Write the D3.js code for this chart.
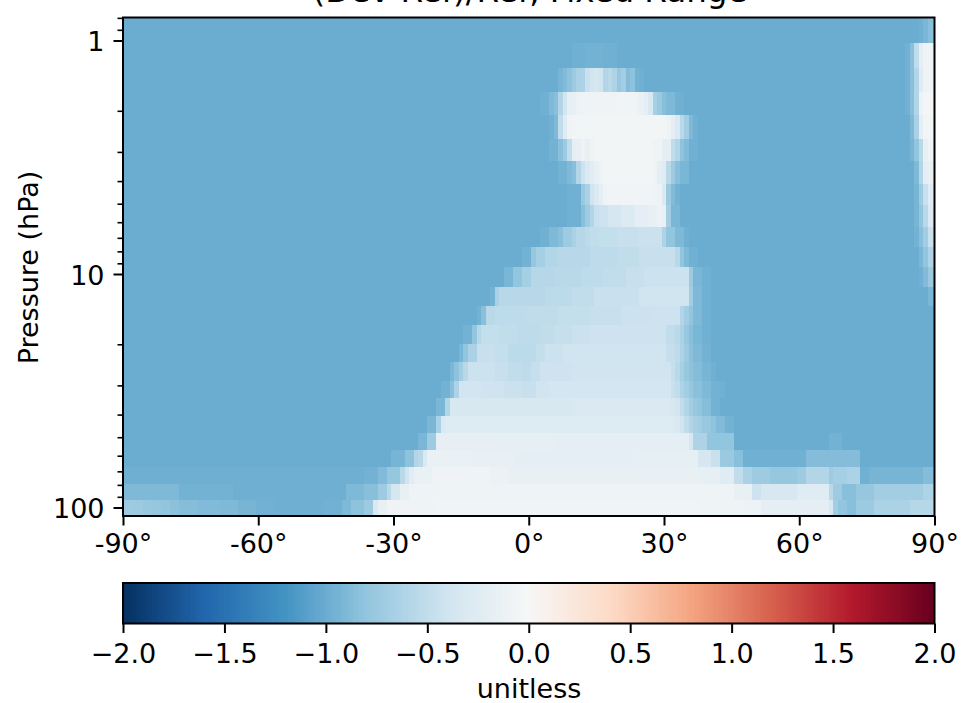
<!DOCTYPE html>
<html><head><meta charset="utf-8">
<script src="https://cdn.jsdelivr.net/npm/d3@7"></script>
<style>
html,body{margin:0;padding:0;background:#fff;overflow:hidden}
svg{display:block}
text{font-family:"DejaVu Sans",sans-serif;fill:#000}
</style></head><body>
<svg id="c" width="974" height="703"></svg>
<script>
const titleText = "(Dev-Ref)/Ref, Fixed Range";
const yLabel = "Pressure (hPa)";
const cbLabel = "unitless";
const colorStops = ["#053061","#2166ac","#4393c3","#92c5de","#d1e5f0","#f7f7f7","#fddbc7","#f4a582","#d6604d","#b2182b","#67001f"];
const latTicks = [-90,-60,-30,0,30,60,90];
const pTicksMajor = [1,10,100];
const pTicksMinor = [0.8,0.9,2,3,4,5,6,7,8,9,20,30,40,50,60,70,80,90];
const cbTicks = [-2,-1.5,-1,-0.5,0,0.5,1,1.5,2];
// pressure layer edges (hPa), top to bottom
const pEdges = [0.797,1.025,1.311,1.662,2.085,2.642,3.28,4.12,5.06,6.29,7.66,9.33,11.37,13.71,16.54,19.94,23.82,28.72,33.96,40.56,47.96,56.73,67.1,79.3,92.9,108.8];
const bg = -1;
// one list per layer: [latitude where a run starts, value of the run]
const layers = [
[[-90,bg],[87,-0.97],[88,-0.92],[89,-0.85]],
[[-90,bg],[10,-0.97],[13,-0.95],[17,-0.97],[20,bg],[84,-0.96],[85,-0.85],[86,-0.5],[87,-0.2],[88,-0.08]],
[[-90,bg],[7,-0.93],[8,-0.88],[9,-0.82],[10,-0.72],[11,-0.65],[12,-0.62],[13,-0.45],[14,-0.38],[15,-0.36],[16,-0.4],[17,-0.6],[18,-0.55],[19,-0.62],[20,-0.76],[21,-0.7],[22,-0.87],[23,-0.82],[24,-0.95],[25,-0.97],[26,bg],[84,-0.96],[85,-0.85],[86,-0.6],[87,-0.25],[88,-0.08]],
[[-90,bg],[3,-0.97],[5,-0.9],[6,-0.85],[7,-0.6],[8,-0.38],[9,-0.18],[10,-0.15],[11,-0.12],[12,-0.1],[14,-0.08],[20,-0.07],[24,-0.1],[25,-0.14],[26,-0.2],[27,-0.32],[28,-0.68],[29,-0.75],[30,-0.85],[31,-0.9],[33,-0.97],[35,bg],[84,-0.96],[85,-0.85],[86,-0.6],[87,-0.12],[88,-0.04]],
[[-90,bg],[5,-0.97],[6,-0.9],[7,-0.5],[8,-0.25],[9,-0.08],[10,-0.05],[31,-0.1],[32,-0.2],[33,-0.3],[34,-0.55],[35,-0.7],[36,-0.9],[37,-0.97],[38,bg],[85,-0.9],[86,-0.65],[87,-0.2],[88,-0.05]],
[[-90,bg],[5,-0.95],[7,-0.85],[8,-0.72],[9,-0.5],[10,-0.2],[11,-0.17],[12,-0.1],[13,-0.15],[14,-0.08],[15,-0.05],[28,-0.1],[30,-0.2],[32,-0.5],[33,-0.6],[34,-0.82],[35,-0.88],[36,-0.97],[38,bg],[85,-0.93],[86,-0.8],[87,-0.55],[88,-0.15],[89,-0.1]],
[[-90,bg],[7,-0.95],[9,-0.9],[10,-0.85],[11,-0.6],[12,-0.42],[13,-0.3],[14,-0.22],[15,-0.15],[16,-0.1],[17,-0.05],[28,-0.1],[29,-0.2],[30,-0.25],[31,-0.55],[32,-0.72],[33,-0.85],[34,-0.92],[36,bg],[86,-0.9],[87,-0.6],[88,-0.2],[89,-0.15]],
[[-90,bg],[9,-0.97],[12,-0.75],[13,-0.65],[14,-0.4],[15,-0.3],[16,-0.2],[17,-0.1],[18,-0.06],[28,-0.1],[29,-0.12],[30,-0.3],[31,-0.75],[32,-0.88],[33,-0.95],[34,bg],[86,-0.93],[87,-0.72],[88,-0.45],[89,-0.25]],
[[-90,bg],[9,-0.97],[12,-0.85],[13,-0.72],[14,-0.6],[15,-0.45],[16,-0.42],[18,-0.35],[21,-0.28],[24,-0.2],[27,-0.15],[29,-0.12],[30,-0.15],[31,-0.7],[32,-0.92],[34,bg],[86,-0.93],[87,-0.8],[88,-0.55],[89,-0.3]],
[[-90,bg],[3,-0.97],[5,-0.9],[7,-0.85],[8,-0.72],[10,-0.65],[11,-0.58],[13,-0.54],[14,-0.5],[16,-0.48],[20,-0.46],[25,-0.44],[30,-0.62],[31,-0.8],[33,-0.9],[35,-0.97],[36,bg],[86,-0.95],[87,-0.85],[88,-0.7],[89,-0.45]],
[[-90,bg],[-1,-0.95],[1,-0.78],[2,-0.68],[4,-0.6],[7,-0.56],[14,-0.53],[20,-0.5],[25,-0.46],[33,-0.55],[34,-0.8],[35,-0.9],[36,-0.97],[38,bg],[87,-0.92],[88,-0.8],[89,-0.62]],
[[-90,bg],[-5,-0.92],[-3,-0.8],[-1,-0.68],[1,-0.57],[6,-0.55],[12,-0.52],[17,-0.5],[22,-0.46],[26,-0.43],[36,-0.72],[37,-0.92],[39,-0.97],[41,bg],[87,-0.97],[88,-0.88],[89,-0.75]],
[[-90,bg],[-8,-0.95],[-7,-0.65],[-6,-0.56],[4,-0.54],[10,-0.5],[15,-0.45],[25,-0.4],[36,-0.7],[37,-0.9],[39,-0.97],[41,bg],[89,-0.92]],
[[-90,bg],[-11,-0.95],[-10,-0.85],[-9,-0.55],[-7,-0.52],[0,-0.51],[7,-0.48],[14,-0.46],[21,-0.43],[28,-0.42],[34,-0.6],[35,-0.7],[36,-0.8],[37,-0.9],[39,-0.97],[41,bg]],
[[-90,bg],[-14,-0.95],[-12,-0.8],[-11,-0.58],[-10,-0.48],[-6,-0.5],[-2,-0.53],[3,-0.5],[6,-0.47],[10,-0.44],[14,-0.42],[31,-0.5],[33,-0.55],[34,-0.64],[35,-0.76],[36,-0.85],[37,-0.92],[39,-0.97],[41,bg]],
[[-90,bg],[-15,-0.92],[-14,-0.8],[-13,-0.65],[-11,-0.46],[-7,-0.49],[-4,-0.54],[2,-0.48],[4,-0.43],[8,-0.4],[31,-0.47],[33,-0.52],[34,-0.62],[35,-0.72],[36,-0.83],[37,-0.9],[39,-0.95],[41,bg]],
[[-90,bg],[-17,-0.92],[-16,-0.82],[-15,-0.7],[-14,-0.55],[-13,-0.43],[-7,-0.46],[-4,-0.5],[-1,-0.52],[1,-0.47],[3,-0.42],[10,-0.4],[32,-0.47],[33,-0.55],[34,-0.68],[35,-0.76],[36,-0.82],[37,-0.87],[39,-0.93],[41,-0.97],[42,bg]],
[[-90,bg],[-19,-0.95],[-17,-0.85],[-16,-0.62],[-15,-0.39],[-10,-0.41],[-5,-0.44],[-1,-0.46],[2,-0.4],[5,-0.37],[32,-0.45],[33,-0.5],[34,-0.62],[35,-0.7],[36,-0.78],[37,-0.84],[39,-0.9],[41,-0.95],[43,-0.97],[44,bg]],
[[-90,bg],[-20,-0.92],[-18,-0.6],[-17,-0.33],[10,-0.3],[32,-0.33],[33,-0.38],[34,-0.5],[35,-0.6],[36,-0.7],[37,-0.76],[38,-0.8],[39,-0.86],[41,-0.95],[43,bg]],
[[-90,bg],[-22,-0.92],[-20,-0.65],[-19,-0.3],[-18,-0.27],[32,-0.28],[33,-0.32],[34,-0.4],[35,-0.5],[36,-0.6],[37,-0.66],[38,-0.7],[39,-0.76],[41,-0.82],[42,-0.88],[44,-0.95],[46,bg]],
[[-90,bg],[-24,-0.92],[-22,-0.72],[-20,-0.17],[-5,-0.18],[6,-0.2],[36,-0.35],[37,-0.62],[40,-0.8],[46,bg],[67,-0.95],[70,bg]],
[[-90,bg],[-30,-0.93],[-27,-0.82],[-25,-0.6],[-24,-0.55],[-23,-0.3],[-22,-0.14],[-12,-0.16],[-3,-0.19],[10,-0.2],[25,-0.18],[38,-0.35],[41,-0.45],[43,-0.75],[46,-0.85],[48,-0.97],[62,-0.87],[74,bg]],
[[-90,-0.98],[-36,-0.95],[-33,-0.88],[-31,-0.78],[-28,-0.55],[-27,-0.4],[-26,-0.22],[-25,-0.14],[-21,-0.08],[-14,-0.1],[-8,-0.13],[-4,-0.16],[25,-0.15],[38,-0.18],[43,-0.25],[46,-0.5],[48,-0.65],[50,-0.72],[54,-0.78],[60,-0.72],[62,-0.6],[67,-0.72],[68,-0.68],[71,-0.64],[74,-0.97],[76,-0.93],[88,-0.87]],
[[-90,-0.9],[-77,-0.95],[-65,-0.98],[-40,-0.9],[-36,-0.85],[-33,-0.72],[-31,-0.55],[-30,-0.35],[-28,-0.15],[-26,-0.1],[38,-0.1],[46,-0.15],[50,-0.42],[52,-0.33],[60,-0.25],[67,-0.55],[68,-0.72],[70,-0.85],[73,-0.77],[77,-0.7],[88,-0.63]],
[[-90,-0.72],[-87,-0.74],[-85,-0.76],[-83,-0.78],[-81,-0.8],[-79,-0.83],[-77,-0.86],[-73,-0.88],[-68,-0.9],[-64,-0.93],[-60,-0.96],[-56,-0.98],[-45,-0.96],[-41,-0.9],[-39,-0.82],[-36,-0.72],[-34,-0.3],[-33,-0.15],[-31,-0.08],[-20,-0.07],[38,-0.09],[48,-0.12],[52,-0.2],[67,-0.32],[68,-0.7],[69,-0.8],[71,-0.85],[73,-0.74],[77,-0.64],[85,-0.58]]
];

const svg = d3.select("#c");
const plot = {l:123, r:934.5, t:17.5, b:516};
const cb = {t:583, b:623.5};
const x = d3.scaleLinear().domain([-90,90]).range([plot.l,plot.r]);
const y = d3.scaleLog().domain([1,100]).range([40.5,507.5]);
const stopDomain = d3.range(colorStops.length).map(i => -2 + 4*i/(colorStops.length-1));
const color = d3.scaleLinear().domain(stopDomain).range(colorStops).interpolate(d3.interpolateRgb);

// heat cells: a run starting at latitude L covers from L-0.5
const heat = svg.append("g").attr("shape-rendering","crispEdges");
layers.forEach((runs,i) => {
  heat.selectAll(null).data(runs).join("rect")
    .attr("x", d => x(Math.max(-90,d[0]-0.5)))
    .attr("width", (d,j) => x(j+1<runs.length ? runs[j+1][0]-0.5 : 90) - x(Math.max(-90,d[0]-0.5)))
    .attr("y", y(pEdges[i]))
    .attr("height", y(pEdges[i+1]) - y(pEdges[i]))
    .attr("fill", d => color(d[1]));
});

const ink = "#000";
// frame
svg.append("rect").attr("x",plot.l).attr("y",plot.t).attr("width",plot.r-plot.l).attr("height",plot.b-plot.t)
  .attr("fill","none").attr("stroke",ink).attr("stroke-width",2);
// x axis
const gx = svg.append("g").attr("transform",`translate(0,${plot.b})`)
  .call(d3.axisBottom(x).tickValues(latTicks).tickSize(9.5).tickPadding(8.3).tickFormat(d=>d+"°"));
// y axis
const gy = svg.append("g").attr("transform",`translate(${plot.l},0)`)
  .call(d3.axisLeft(y).tickValues(pTicksMajor).tickSize(9.5).tickPadding(9).tickFormat(d3.format("d")));
gy.selectAll("text").attr("dy","0.38em");
svg.append("g").attr("transform",`translate(${plot.l},0)`)
  .call(d3.axisLeft(y).tickValues(pTicksMinor).tickSize(5.5).tickFormat(""))
  .call(g=>{g.select(".domain").remove();g.selectAll("line").attr("stroke-width",1.6);});

// colorbar
const cx = d3.scaleLinear().domain([-2,2]).range([plot.l,plot.r]);
const levels = d3.range(256).map(i => -2 + 4*i/256);
svg.append("g").attr("shape-rendering","crispEdges").selectAll("rect").data(levels).join("rect")
  .attr("x",d=>cx(d)).attr("width",d=>cx(d+4/256)-cx(d)+0.5)
  .attr("y",cb.t).attr("height",cb.b-cb.t)
  .attr("fill",d=>color(d+2/256));
svg.append("rect").attr("x",plot.l).attr("y",cb.t).attr("width",plot.r-plot.l).attr("height",cb.b-cb.t)
  .attr("fill","none").attr("stroke",ink).attr("stroke-width",2);
const gc = svg.append("g").attr("transform",`translate(0,${cb.b})`)
  .call(d3.axisBottom(cx).tickValues(cbTicks).tickSize(9.5).tickPadding(10.5).tickFormat(d=>d3.format(".1f")(d).replace("-","\u2212")));

[gx,gy,gc].forEach(g=>{
  g.select(".domain").remove();
  g.selectAll("line").attr("stroke",ink).attr("stroke-width",2);
  g.selectAll("text").attr("fill",ink).style("font-size","27px").style("font-family",'"DejaVu Sans"');
});

svg.append("text").attr("x",530).attr("y",1.5).attr("text-anchor","middle").style("font-size","32.5px").text(titleText);
svg.append("text").attr("transform","translate(38,267.5) rotate(-90)").attr("text-anchor","middle").style("font-size","27px").text(yLabel);
svg.append("text").attr("x",529).attr("y",698).attr("text-anchor","middle").style("font-size","27px").text(cbLabel);
</script>
</body></html>
